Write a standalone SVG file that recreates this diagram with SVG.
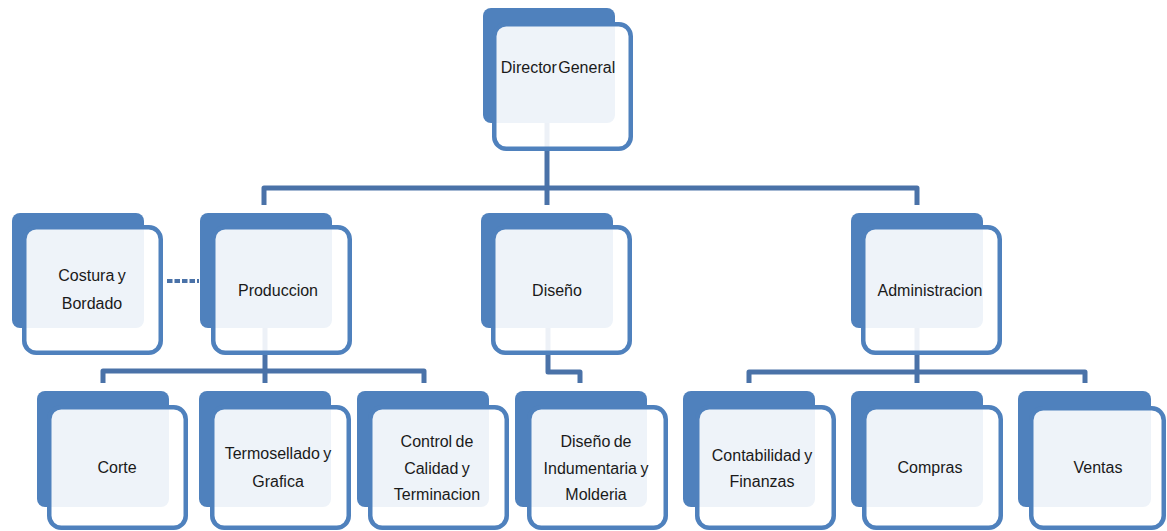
<svg xmlns="http://www.w3.org/2000/svg" width="1167" height="531" viewBox="0 0 1167 531">
  <style>
    .back { fill: #4f81bd; }
    .front { fill: #ffffff; fill-opacity: 0.9; stroke: #4f81bd; stroke-width: 4.5; }
    .link { fill: none; stroke: #4a72a8; stroke-width: 5; stroke-linejoin: round; }
    .dots { fill: none; stroke: #4a72a8; stroke-width: 4; stroke-dasharray: 5.5 2; }
    .label { font-family: "Liberation Sans", Arial, sans-serif; font-size: 16px; fill: #1a1a1a; text-anchor: middle; word-spacing: -1px; }
    .tight { word-spacing: -3px; }
  </style>
  <rect width="1167" height="531" fill="#ffffff"/>

  <!-- connectors (drawn first so they show faintly through the cards) -->
  <g id="connectors">
    <path class="link" d="M547,120 V205"/>
    <path class="link" d="M264,205 V188 H917 V205"/>
    <path class="link" d="M265,325 V383"/>
    <path class="link" d="M103,383 V371 H424 V383"/>
    <path class="link" d="M548,325 V372 H580 V383"/>
    <path class="link" d="M917,325 V383"/>
    <path class="link" d="M749,383 V372 H1085 V383"/>
    <path class="dots" d="M167,281 H199"/>
  </g>

  <g id="director-general">
    <rect class="back" x="483" y="8" width="132" height="115" rx="8"/>
    <rect class="front" x="494.25" y="24.25" width="136.5" height="124.5" rx="12"/>
    <text class="label tight" x="558" y="73">Director General</text>
  </g>

  <g id="costura-bordado">
    <rect class="back" x="12" y="213" width="132" height="115" rx="8"/>
    <rect class="front" x="24.25" y="227.25" width="136.5" height="125.5" rx="12"/>
    <text class="label" x="92" y="281">Costura y</text>
    <text class="label" x="92" y="309">Bordado</text>
  </g>

  <g id="produccion">
    <rect class="back" x="200" y="213" width="132" height="115" rx="8"/>
    <rect class="front" x="213.25" y="227.25" width="136.5" height="125.5" rx="12"/>
    <text class="label" x="278" y="296">Produccion</text>
  </g>

  <g id="diseno">
    <rect class="back" x="481" y="213" width="132" height="115" rx="8"/>
    <rect class="front" x="493.25" y="227.25" width="136.5" height="125.5" rx="12"/>
    <text class="label" x="557" y="296">Diseño</text>
  </g>

  <g id="administracion">
    <rect class="back" x="851" y="213" width="132" height="115" rx="8"/>
    <rect class="front" x="863.25" y="227.25" width="136.5" height="125.5" rx="12"/>
    <text class="label" x="930" y="296">Administracion</text>
  </g>

  <g id="corte">
    <rect class="back" x="37" y="391" width="132" height="116" rx="8"/>
    <rect class="front" x="49.25" y="407.25" width="136.5" height="120.5" rx="12"/>
    <text class="label" x="117" y="473">Corte</text>
  </g>

  <g id="termosellado-grafica">
    <rect class="back" x="199" y="391" width="132" height="116" rx="8"/>
    <rect class="front" x="212.25" y="407.25" width="136.5" height="120.5" rx="12"/>
    <text class="label" x="278" y="459">Termosellado y</text>
    <text class="label" x="278" y="487">Grafica</text>
  </g>

  <g id="control-calidad">
    <rect class="back" x="357" y="391" width="132" height="116" rx="8"/>
    <rect class="front" x="370.25" y="407.25" width="136.5" height="120.5" rx="12"/>
    <text class="label" x="437" y="447">Control de</text>
    <text class="label" x="437" y="474">Calidad y</text>
    <text class="label" x="437" y="500">Terminacion</text>
  </g>

  <g id="diseno-indumentaria">
    <rect class="back" x="515" y="391" width="132" height="116" rx="8"/>
    <rect class="front" x="529.25" y="407.25" width="136.5" height="120.5" rx="12"/>
    <text class="label" x="596" y="447">Diseño de</text>
    <text class="label" x="596" y="474">Indumentaria y</text>
    <text class="label" x="596" y="500">Molderia</text>
  </g>

  <g id="contabilidad-finanzas">
    <rect class="back" x="683" y="391" width="132" height="116" rx="8"/>
    <rect class="front" x="697.25" y="407.25" width="136.5" height="120.5" rx="12"/>
    <text class="label" x="762" y="461">Contabilidad y</text>
    <text class="label" x="762" y="487">Finanzas</text>
  </g>

  <g id="compras">
    <rect class="back" x="851" y="391" width="132" height="116" rx="8"/>
    <rect class="front" x="864.25" y="407.25" width="136.5" height="120.5" rx="12"/>
    <text class="label" x="930" y="473">Compras</text>
  </g>

  <g id="ventas">
    <rect class="back" x="1018" y="391" width="133" height="116" rx="8"/>
    <rect class="front" x="1031.25" y="408.25" width="132.5" height="119.5" rx="12"/>
    <text class="label" x="1098" y="473">Ventas</text>
  </g>
</svg>
